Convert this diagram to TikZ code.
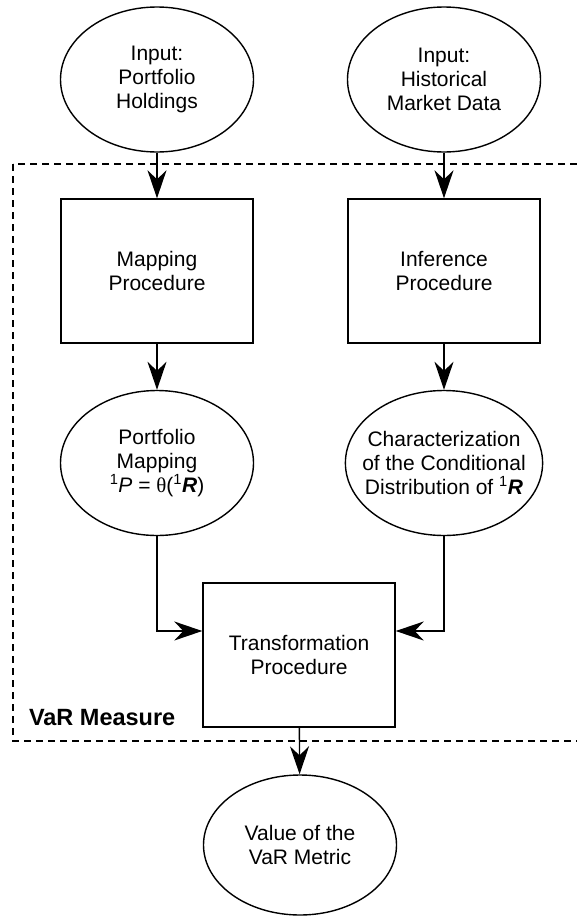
\documentclass[tikz,border=0pt]{standalone}
\usepackage{fontspec}
\setmainfont{Liberation Sans}
\newfontfamily\thetafont{Liberation Serif}
\usetikzlibrary{shapes.geometric,arrows.meta}

\tikzset{
  proc/.style={draw, rectangle, minimum width=192pt, minimum height=144pt, align=center},
  term/.style={draw, ellipse, inner xsep=-12pt, minimum width=193pt, minimum height=145pt, align=center},
  flow/.style={-{Stealth[length=28pt,width=19pt,inset=9pt]}},
}

\begin{document}
\begin{tikzpicture}[x=1pt,y=-1pt, line width=1.4pt, font=\fontsize{21}{24}\selectfont]
\useasboundingbox (0,0) rectangle (577,916);

% the VaR measure
\draw[dash pattern=on 7pt off 5pt, line width=1.2pt] (13,164) rectangle (600,741);
\node[anchor=base west, font=\fontsize{23.5}{26}\selectfont\bfseries] (msr) at (25,725) {VaR Measure};

% inputs
\node[term] (hold) at (157,79.5) {Input:\\Portfolio\\Holdings};
\node[term] (mkt) at (444,79.5) {Input:\\Historical\\Market Data};

\node[proc] (map) at (157,271) {Mapping\\Procedure};
\node[proc] (inf) at (444,271) {Inference\\Procedure};

\node[term] (pmap) at (157,463) {Portfolio\\Mapping\\\textsuperscript{1}\textit{P} = {\thetafont θ}(\textsuperscript{1}\textbf{\textit{R}})};
\node[term] (dist) at (444,463) {Characterization\\of the Conditional\\Distribution of \textsuperscript{1}\textbf{\textit{R}}};

\node[proc] (trans) at (299,655) {Transformation\\Procedure};

\node[term, minimum height=140pt] (val) at (300,845) {Value of the\\VaR Metric};

\draw[flow] (hold) -- (map);
\draw[flow] (mkt) -- (inf);
\draw[flow] (map) -- (pmap);
\draw[flow] (inf) -- (dist);
\draw[flow] (pmap) |- ([yshift=24pt]trans.west);
\draw[flow] (dist) |- ([yshift=24pt]trans.east);
\draw[flow] (trans) -- (val);
\end{tikzpicture}
\end{document}
